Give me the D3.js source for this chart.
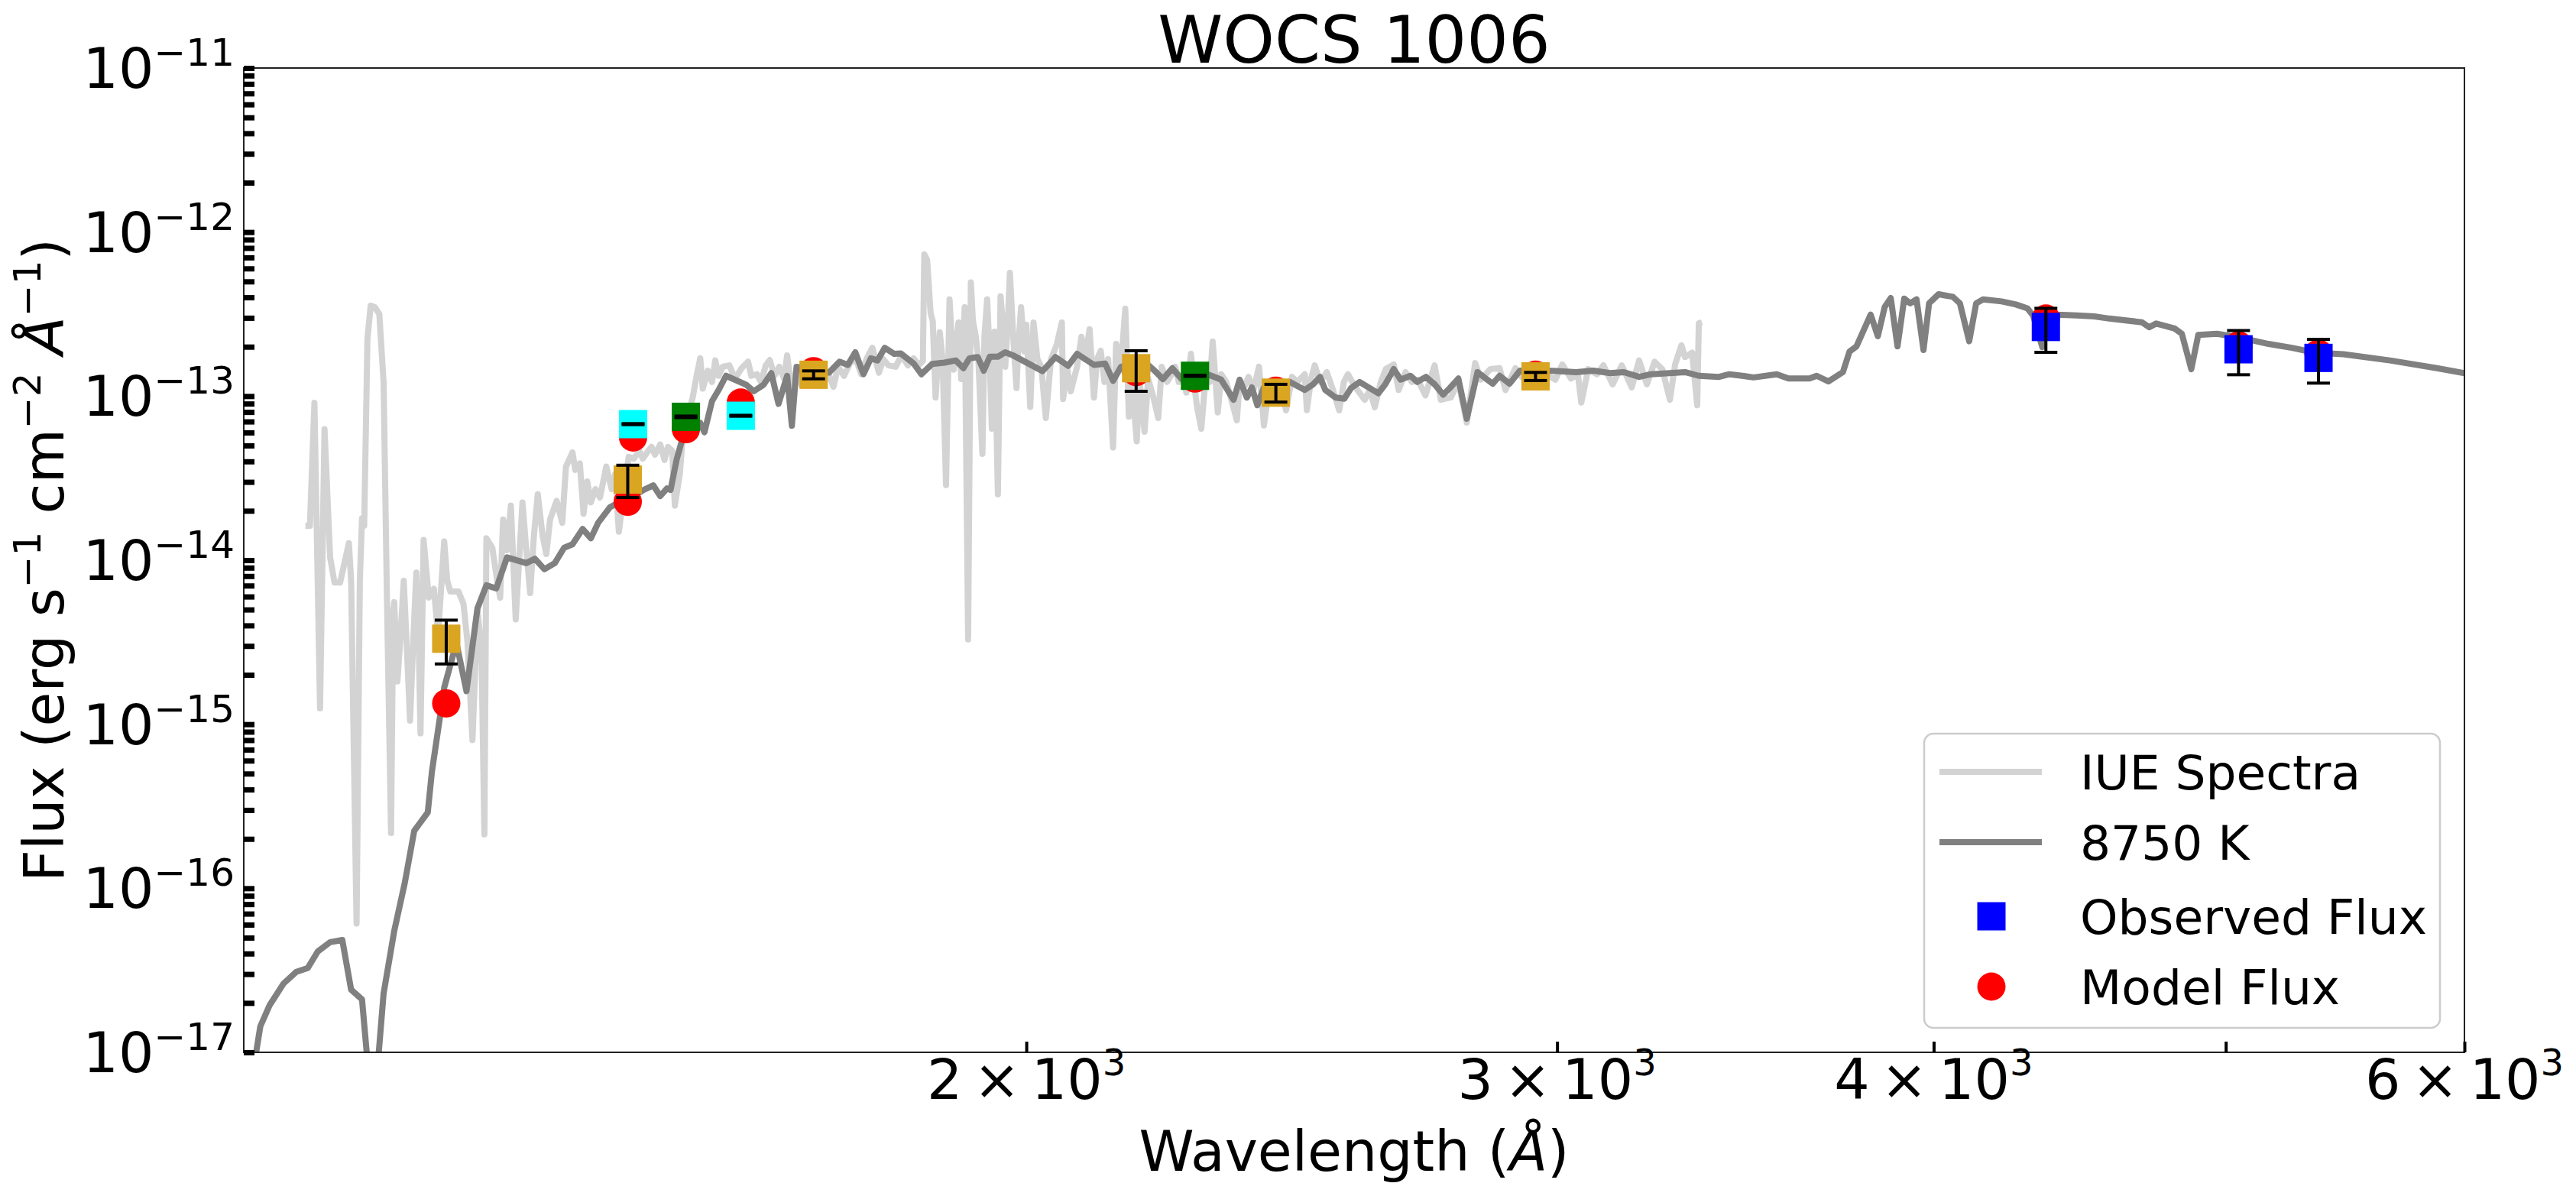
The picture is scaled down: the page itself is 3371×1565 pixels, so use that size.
<!DOCTYPE html>
<html>
<head>
    <title>WOCS 1006</title>
    <script src="https://d3js.org/d3.v7.min.js"></script>
    <style>
        body { margin: 0; background: #fff; }
        text { font-family: "DejaVu Sans", sans-serif; fill: #000; }
    </style>
</head>
<body>
<div id="chart"></div>
<script>
// IUE spectrum (wavelength in A, flux in erg/s/cm2/A)
const iueWave = [1153,1157,1161,1166,1170,1175,1179,1184,1192,1194,1199,1202,1204,1206,1209,1212,1216,1220,1224,1227,
    1231,1233,1234,1237,1240,1243,1246,1249,1252,1255,1257,1259,1262,1267,1272,1276,1282,1285,1288,1296,
    1301,1305,1310,1315,1319,1322,1324,1330,1335,1338,1341,1345,1349,1354,1361,1365,1369,1373,1377,1382,
    1386,1390,1397,1403,1407,1414,1417,1422,1426,1430,1434,1439,1444,1451,1457,1461,1465,1471,1476,1482,
    1488,1492,1497,1502,1506,1512,1517,1521,1526,1529,1535,1539,1544,1550,1555,1559,1562,1568,1573,1577,
    1581,1586,1594,1601,1609,1617,1621,1628,1633,1639,1644,1650,1656,1662,1666,1672,1678,1684,1690,1697,
    1705,1712,1719,1726,1732,1740,1748,1756,1763,1770,1778,1787,1793,1800,1810,1818,1827,1835,1842,1848,
    1850,1854,1859,1862,1866,1872,1876,1881,1886,1889,1892,1899,1903,1908,1913,1917,1920,1924,1928,1934,
    1937,1941,1944,1948,1952,1957,1961,1965,1968,1972,1975,1980,1985,1988,1992,1997,2000,2006,2011,2017,
    2023,2030,2038,2047,2055,2057,2063,2069,2079,2086,2092,2099,2106,2111,2117,2123,2129,2137,2142,2150,
    2157,2163,2168,2176,2181,2189,2195,2204,2212,2218,2227,2235,2241,2247,2254,2260,2268,2273,2279,2286,
    2294,2301,2306,2315,2321,2330,2338,2349,2354,2363,2370,2379,2389,2394,2398,2407,2418,2428,2439,2450,
    2460,2474,2478,2486,2493,2503,2516,2528,2540,2549,2557,2570,2590,2600,2610,2622,2632,2648,2658,2672,
    2685,2697,2713,2732,2745,2766,2782,2800,2818,2830,2851,2871,2884,2906,2920,2936,2956,2974,2996,3012,
    3032,3048,3056,3072,3093,3108,3130,3152,3176,3194,3213,3232,3251,3270,3283,3299,3308,3326,3339,3343,3351];
const iueFlux = [1.62e-14,1.62e-14,9.1e-14,1.25e-15,6.3e-14,1.04e-14,7.3e-15,7.3e-15,1.27e-14,7.5e-15,6.1e-17,7.5e-15,1.8e-14,1.62e-14,2.24e-13,3.56e-13,3.48e-13,3.16e-13,1.22e-13,6.7e-15,
    2.17e-16,4.88e-15,5.55e-15,1.82e-15,3.54e-15,7.49e-15,2.85e-15,1.05e-15,3.18e-15,8.4e-15,3.93e-15,8.8e-16,1.33e-14,5.92e-15,6.7e-15,3.5e-15,1.3e-14,7.5e-15,6.45e-15,6.45e-15,
    5.43e-15,3.18e-15,8.0e-16,4.98e-15,2.85e-15,2.13e-16,1.36e-14,1.19e-14,7.5e-15,5.9e-15,1.77e-14,1.15e-14,2.15e-14,4.35e-15,2.25e-14,1.15e-14,6.3e-15,1.42e-14,2.52e-14,1.42e-14,
    1.09e-14,1.77e-14,2.3e-14,1.69e-14,3.72e-14,4.54e-14,3.55e-14,3.89e-14,1.92e-14,3.02e-14,2.25e-14,2.71e-14,2.41e-14,3.72e-14,2.71e-14,3.36e-14,1.49e-14,2.71e-14,4.26e-14,4.16e-14,
    4.64e-14,4.16e-14,4.54e-14,4.9e-14,4.4e-14,5.07e-14,4.08e-14,4.9e-14,4.64e-14,2.15e-14,3.4e-14,6.4e-14,7.5e-14,9.8e-14,1.36e-13,1.7e-13,1.11e-13,1.43e-13,1.22e-13,1.65e-13,
    1.33e-13,1.51e-13,1.54e-13,1.28e-13,1.48e-13,1.62e-13,1.33e-13,1.36e-13,1.22e-13,1.54e-13,1.66e-13,1.33e-13,1.51e-13,1.28e-13,1.77e-13,1.07e-13,1.43e-13,1.17e-13,1.36e-13,1.22e-13,
    1.43e-13,1.26e-13,1.38e-13,1.14e-13,1.51e-13,1.33e-13,1.59e-13,1.68e-13,1.36e-13,1.68e-13,1.97e-13,1.39e-13,1.68e-13,1.54e-13,1.51e-13,1.77e-13,1.54e-13,1.7e-13,1.54e-13,1.64e-13,
    7.32e-13,6.78e-13,3.19e-13,2.87e-13,9.8e-14,2.45e-13,1.68e-13,2.87e-14,3.89e-13,2.32e-13,1.45e-13,2.81e-13,1.27e-13,3.48e-13,3.29e-15,4.94e-13,2.87e-13,2.35e-13,1.68e-13,4.44e-14,
    2.32e-13,3.89e-13,2.08e-13,6.33e-14,2.47e-13,2.52e-14,4.06e-13,2.58e-13,1.51e-13,2.87e-13,5.64e-13,2.32e-13,1.12e-13,2.08e-13,3.48e-13,1.87e-13,2.72e-13,8.59e-14,2.81e-13,1.68e-13,
    1.51e-13,7.36e-14,1.68e-13,2.06e-13,2.81e-13,9.6e-14,1.51e-13,1.07e-13,1.51e-13,2.3e-13,1.68e-13,2.56e-13,9.8e-14,1.68e-13,1.89e-13,1.22e-13,1.68e-13,4.86e-14,2.08e-13,1.51e-13,
    3.41e-13,7.5e-14,1.22e-13,5.3e-14,1.22e-13,6.07e-14,1.28e-13,9.8e-14,7.36e-14,1.51e-13,1.22e-13,1.36e-13,1.51e-13,1.22e-13,1.36e-13,1.05e-13,1.81e-13,1.22e-13,8.4e-14,6.33e-14,
    1.36e-13,1.22e-13,2.15e-13,7.95e-14,1.36e-13,1.22e-13,9.8e-14,7.13e-14,1.22e-13,1.15e-13,1.31e-13,1.09e-13,1.51e-13,9.8e-14,6.63e-14,1.09e-13,9.8e-14,1.22e-13,8.2e-14,1.31e-13,
    1.22e-13,1.36e-13,8.2e-14,1.28e-13,1.54e-13,1.22e-13,1.4e-13,1.09e-13,8.2e-14,1.22e-13,1.36e-13,1.15e-13,9.5e-14,1.09e-13,8.56e-14,1.22e-13,1.46e-13,1.56e-13,1.09e-13,1.4e-13,
    1.22e-13,1.26e-13,1.01e-13,1.54e-13,9.5e-14,9.8e-14,1.22e-13,6.9e-14,1.59e-13,1.26e-13,1.46e-13,1.48e-13,1.09e-13,1.48e-13,1.31e-13,1.36e-13,1.24e-13,1.36e-13,1.26e-13,1.56e-13,
    1.28e-13,1.36e-13,9.13e-14,1.46e-13,1.36e-13,1.54e-13,1.18e-13,1.54e-13,1.13e-13,1.65e-13,1.18e-13,1.62e-13,1.46e-13,9.5e-14,1.56e-13,2.04e-13,1.73e-13,1.84e-13,8.8e-14,2.78e-13,2.82e-13];

// 8750 K model spectrum
const modelWave = [1106,1114,1122,1134,1145,1155,1164,1175,1186,1194,1204,1211,1217,1224,1234,1244,1253,1266,1270,1278,
    1282,1294,1304,1315,1324,1334,1345,1365,1374,1384,1395,1405,1414,1425,1434,1442,1455,1465,1479,1493,
    1504,1512,1520,1524,1531,1540,1551,1559,1564,1573,1581,1590,1615,1624,1636,1646,1655,1666,1672,1678,
    1720,1734,1745,1755,1766,1776,1785,1795,1808,1817,1835,1846,1861,1879,1895,1906,1915,1927,1936,1945,
    1957,1968,1980,2025,2045,2065,2079,2106,2124,2137,2150,2189,2204,2220,2236,2252,2271,2297,2321,2343,
    2354,2367,2376,2386,2398,2446,2474,2490,2503,2513,2533,2550,2563,2580,2617,2631,2648,2662,2682,2696,
    2714,2732,2750,2764,2782,2800,2823,2856,2871,2893,2916,2981,3044,3084,3124,3157,3194,3223,3308,3343,
    3395,3422,3456,3486,3548,3580,3638,3658,3691,3732,3751,3771,3812,3833,3853,3871,3891,3911,3929,3948,
    3969,3986,4015,4059,4081,4110,4132,4154,4213,4259,4297,4316,4346,4374,4397,4462,4522,4574,4690,4716,
    4741,4809,4835,4870,4896,4967,5056,5166,5259,5353,5470,5668,5875,6000];
const modelFlux = [6.3e-18,1.44e-17,1.94e-17,2.63e-17,3.09e-17,3.26e-17,4.12e-17,4.69e-17,4.84e-17,2.41e-17,2.1e-17,6.3e-18,6.3e-18,2.28e-17,5.5e-17,1.08e-16,2.24e-16,2.9e-16,5.12e-16,1.12e-15,
    1.67e-15,3.14e-15,1.59e-15,5.09e-15,7.03e-15,6.72e-15,1.04e-14,9.59e-15,1.02e-14,8.8e-15,9.59e-15,1.19e-14,1.25e-14,1.55e-14,1.36e-14,1.69e-14,2.1e-14,2.25e-14,2.41e-14,2.68e-14,
    2.86e-14,2.46e-14,2.74e-14,2.68e-14,4.08e-14,6.03e-14,6.58e-14,6.86e-14,6.03e-14,9.3e-14,1.09e-13,1.33e-13,1.17e-13,1.07e-13,1.17e-13,1.38e-13,8.97e-14,1.33e-13,6.6e-14,1.51e-13,
    1.39e-13,1.62e-13,1.55e-13,1.85e-13,1.36e-13,1.7e-13,1.65e-13,1.97e-13,1.81e-13,1.82e-13,1.58e-13,1.36e-13,1.57e-13,1.6e-13,1.65e-13,1.48e-13,1.7e-13,1.73e-13,1.43e-13,1.74e-13,
    1.74e-13,1.85e-13,1.77e-13,1.42e-13,1.73e-13,1.53e-13,1.81e-13,1.55e-13,1.58e-13,1.24e-13,1.51e-13,1.62e-13,1.45e-13,1.27e-13,1.48e-13,1.27e-13,1.36e-13,1.36e-13,1.26e-13,9.5e-14,
    1.26e-13,9.8e-14,1.13e-13,8.8e-14,1.13e-13,1.22e-13,1.09e-13,1.18e-13,1.31e-13,1.09e-13,9.8e-14,9.64e-14,1.12e-13,1.22e-13,1.04e-13,1.18e-13,1.46e-13,1.26e-13,1.33e-13,1.22e-13,
    1.31e-13,1.18e-13,1.02e-13,1.12e-13,1.28e-13,7.28e-14,1.4e-13,1.19e-13,1.33e-13,1.19e-13,1.43e-13,1.43e-13,1.4e-13,1.43e-13,1.38e-13,1.4e-13,1.31e-13,1.36e-13,1.4e-13,1.33e-13,
    1.31e-13,1.36e-13,1.33e-13,1.3e-13,1.36e-13,1.28e-13,1.28e-13,1.33e-13,1.23e-13,1.4e-13,1.87e-13,2.01e-13,3.14e-13,2.32e-13,3.49e-13,3.96e-13,2.01e-13,3.93e-13,3.68e-13,3.89e-13,
    1.91e-13,3.68e-13,4.18e-13,4.03e-13,3.68e-13,2.16e-13,3.68e-13,3.89e-13,3.78e-13,3.62e-13,3.43e-13,3.09e-13,1.99e-13,3.19e-13,3.14e-13,3.1e-13,3.06e-13,2.97e-13,2.82e-13,2.63e-13,
    2.77e-13,2.58e-13,2.4e-13,1.46e-13,2.36e-13,2.4e-13,2.27e-13,2.08e-13,1.97e-13,1.84e-13,1.8e-13,1.65e-13,1.48e-13,1.38e-13];

// photometry
const obsWave = [1284, 1475, 1481, 1542, 1608, 1700, 2175, 2275, 2420, 2951, 4358, 5049, 5367];
const obsFlux = [3.32e-15, 3.10e-14, 6.75e-14, 7.48e-14, 7.59e-14, 1.35e-13, 1.48e-13, 1.33e-13, 1.05e-13, 1.32e-13, 2.64e-13, 1.93e-13, 1.71e-13];
const obsErr = [9.9e-16, 6.9e-15, 5e-16, 8e-16, 5e-16, 7.5e-15, 4.1e-14, 1e-15, 1.3e-14, 7.5e-15, 7.9e-14, 5.8e-14, 5.1e-14];
const obsColor = ["goldenrod", "goldenrod", "cyan", "green", "cyan", "goldenrod", "goldenrod", "green", "goldenrod", "goldenrod", "blue", "blue", "blue"];
const modelPhot = [1.34e-15, 2.27e-14, 5.6e-14, 6.29e-14, 9.14e-14, 1.42e-13, 1.40e-13, 1.28e-13, 1.08e-13, 1.35e-13, 2.97e-13, 2.04e-13, 1.82e-13];

const xTicks = [2000, 3000, 4000, 5000, 6000];
const xTickLabels = ["2", "3", "4", "", "6"];
const yDecades = [-17, -16, -15, -14, -13, -12, -11];
const legendLabels = ["IUE Spectra", "8750 K", "Observed Flux", "Model Flux"];

const W = 3371, H = 1565;
const plot = { left: 319, right: 3225, top: 89, bottom: 1377 };

const svg = d3.select("#chart").append("svg")
    .attr("width", W).attr("height", H);

const x = d3.scaleLog().domain([1100, 6000]).range([plot.left, plot.right]);
const y = d3.scaleLog().domain([1e-17, 1e-11]).range([plot.bottom, plot.top]);

svg.append("clipPath").attr("id", "clip")
    .append("rect")
    .attr("x", plot.left).attr("y", plot.top)
    .attr("width", plot.right - plot.left).attr("height", plot.bottom - plot.top);

const line = d3.line().x(d => x(d[0])).y(d => y(d[1]));

const iue = iueWave.map((w, i) => [w, iueFlux[i]]);
const model = modelWave.map((w, i) => [w, modelFlux[i]]);

const g = svg.append("g").attr("clip-path", "url(#clip)");
g.append("path").datum(iue)
    .attr("d", line).attr("fill", "none")
    .attr("stroke", "lightgray").attr("stroke-width", 8).attr("stroke-linejoin", "round");
g.append("path").datum(model)
    .attr("d", line).attr("fill", "none")
    .attr("stroke", "gray").attr("stroke-width", 8).attr("stroke-linejoin", "round");

// model photometry under the observed squares
const sz = 37;
g.selectAll(".mod").data(obsWave).enter().append("circle")
    .attr("cx", d => x(d)).attr("cy", (d, i) => y(modelPhot[i]))
    .attr("r", sz / 2).attr("fill", "red");

g.selectAll(".obs").data(obsWave).enter().append("rect")
    .attr("x", d => x(d) - sz / 2).attr("y", (d, i) => y(obsFlux[i]) - sz / 2)
    .attr("width", sz).attr("height", sz)
    .attr("fill", (d, i) => obsColor[i]);

const eb = g.selectAll(".eb").data(obsWave).enter().append("g")
    .attr("stroke", "black").attr("stroke-width", 4);
eb.append("line")
    .attr("x1", d => x(d)).attr("x2", d => x(d))
    .attr("y1", (d, i) => y(obsFlux[i] - obsErr[i]))
    .attr("y2", (d, i) => y(obsFlux[i] + obsErr[i]));
[-1, 1].forEach(s => {
    eb.append("line")
        .attr("x1", d => x(d) - 15).attr("x2", d => x(d) + 15)
        .attr("y1", (d, i) => y(obsFlux[i] + s * obsErr[i]))
        .attr("y2", (d, i) => y(obsFlux[i] + s * obsErr[i]));
});

// frame
svg.append("rect")
    .attr("x", plot.left).attr("y", plot.top)
    .attr("width", plot.right - plot.left).attr("height", plot.bottom - plot.top)
    .attr("fill", "none").attr("stroke", "#222").attr("stroke-width", 2);

// y ticks: every 1..9 x 10^n, drawn inward
const yTickVals = [];
yDecades.forEach(e => {
    for (let m = 1; m <= 9; m++) {
        const v = m * Math.pow(10, e);
        if (v <= 1.0001e-11) yTickVals.push(v);
    }
});
const yAxis = svg.append("g")
    .attr("transform", `translate(${plot.left},0)`)
    .call(d3.axisLeft(y).tickValues(yTickVals).tickSize(-14).tickFormat(""));
yAxis.select(".domain").remove();
yAxis.selectAll(".tick line").attr("stroke", "#000").attr("stroke-width", 7);

yDecades.forEach(e => {
    const t = svg.append("text")
        .attr("x", 307).attr("y", y(Math.pow(10, e)) + 26)
        .attr("text-anchor", "end").style("font-size", "73px")
        .text("10");
    t.append("tspan").attr("dy", -29).style("font-size", "50px")
        .text("\u2212" + Math.abs(e));
});

const xAxis = svg.append("g")
    .attr("transform", `translate(0,${plot.bottom})`)
    .call(d3.axisBottom(x).tickValues(xTicks).tickSize(-14).tickFormat(""));
xAxis.select(".domain").remove();
xAxis.selectAll(".tick line").attr("stroke", "#000").attr("stroke-width", 4);

xTicks.forEach((v, i) => {
    if (!xTickLabels[i]) return;
    const t = svg.append("text")
        .attr("x", x(v)).attr("y", 1438)
        .attr("text-anchor", "middle").style("font-size", "73px")
        .text(xTickLabels[i] + "\u2009\u00d7\u200910");
    t.append("tspan").attr("dy", -31).style("font-size", "48px").text("3");
});

// labels
svg.append("text")
    .attr("x", (plot.left + plot.right) / 2).attr("y", 82)
    .attr("text-anchor", "middle").style("font-size", "86px")
    .text("WOCS 1006");

const xl = svg.append("text")
    .attr("x", (plot.left + plot.right) / 2).attr("y", 1532)
    .attr("text-anchor", "middle").style("font-size", "73px");
xl.append("tspan").text("Wavelength (");
xl.append("tspan").style("font-style", "italic").text("\u00c5");
xl.append("tspan").text(")");

const yl = svg.append("text")
    .attr("transform", `translate(83,${(plot.top + plot.bottom) / 2}) rotate(-90)`)
    .attr("text-anchor", "middle").style("font-size", "73px");
yl.append("tspan").text("Flux (erg s");
yl.append("tspan").attr("dy", -30).style("font-size", "50px").text("\u22121");
yl.append("tspan").attr("dy", 30).text(" cm");
yl.append("tspan").attr("dy", -30).style("font-size", "50px").text("\u22122");
yl.append("tspan").attr("dy", 30).text(" ");
yl.append("tspan").style("font-style", "italic").text("\u00c5");
yl.append("tspan").attr("dy", -30).style("font-size", "50px").text("\u22121");
yl.append("tspan").attr("dy", 30).text(")");

// legend
const lg = svg.append("g").attr("transform", "translate(2518,960)");
lg.append("rect")
    .attr("width", 675).attr("height", 385).attr("rx", 12)
    .attr("fill", "white").attr("stroke", "#cccccc").attr("stroke-width", 2.5);
const rowY = [50, 142, 239, 331];
lg.append("line").attr("x1", 20).attr("x2", 154).attr("y1", rowY[0]).attr("y2", rowY[0])
    .attr("stroke", "lightgray").attr("stroke-width", 8);
lg.append("line").attr("x1", 20).attr("x2", 154).attr("y1", rowY[1]).attr("y2", rowY[1])
    .attr("stroke", "gray").attr("stroke-width", 8);
lg.append("rect").attr("x", 88 - sz / 2).attr("y", rowY[2] - sz / 2)
    .attr("width", sz).attr("height", sz).attr("fill", "blue");
lg.append("circle").attr("cx", 88).attr("cy", rowY[3]).attr("r", sz / 2).attr("fill", "red");
legendLabels.forEach((s, i) => {
    lg.append("text").attr("x", 204).attr("y", rowY[i] + 23)
        .style("font-size", "63px").text(s);
});
</script>
</body>
</html>
